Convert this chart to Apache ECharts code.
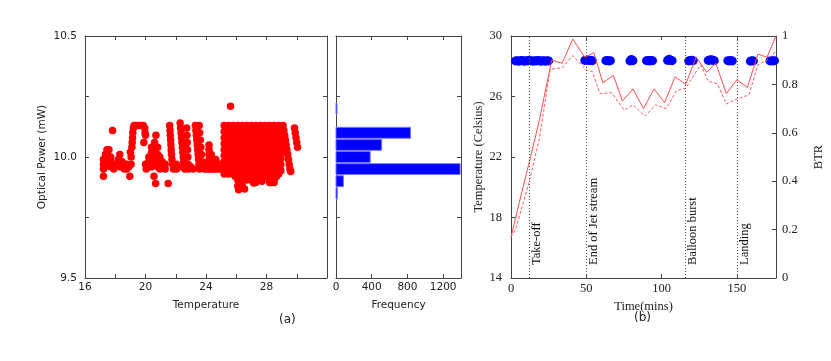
<!DOCTYPE html>
<html>
<head>
<meta charset="utf-8">
<script src="https://cdn.jsdelivr.net/npm/echarts@6/dist/echarts.min.js"></script>
<style>
  html, body { margin: 0; padding: 0; background: #fff; }
  #main { width: 831px; height: 361px; }
</style>
</head>
<body>
<div id="main"></div>
<script>
// ---- (a) scatter: optical power vs temperature, single points [T, P]
var powerPoints = [
  [17.22,9.99],[17.22,9.97],[17.22,9.95],[17.22,9.92],
  [17.35,10.01],[17.35,9.98],[17.35,9.96],
  [17.45,10.03],[17.45,10.01],[17.45,9.99],[17.45,9.97],
  [17.58,10.03],[17.58,10.0],[17.58,9.97],
  [17.7,10.0],[17.7,9.98],[17.7,9.96],[17.82,10.11],
  [17.9,9.97],[17.9,9.95],
  [18.2,9.99],[18.3,10.01],[18.3,9.98],[18.3,9.96],
  [18.45,9.98],[18.45,9.96],[18.6,9.97],[18.6,9.95],
  [18.75,9.97],[18.75,9.95],[18.9,9.96],[18.96,9.92],
  [19.0,10.02],[19.05,10.0],[19.05,9.97],
  [19.1,10.04],[19.12,10.06],[19.14,10.08],[19.16,10.1],[19.2,10.12],[19.25,10.13],
  [19.4,10.13],[19.55,10.13],[19.7,10.13],[19.85,10.13],[19.95,10.12],[19.97,10.1],
  [20.0,10.09],[19.89,10.06],
  [20.0,9.97],[20.05,9.95],
  [20.22,10.0],[20.22,9.98],[20.22,9.96],
  [20.4,10.04],[20.4,10.02],[20.4,10.0],[20.4,9.98],[20.4,9.96],
  [20.56,9.92],
  [20.6,10.06],[20.6,10.04],[20.6,10.02],[20.6,10.0],[20.6,9.98],
  [20.69,10.09],[20.67,9.89],
  [20.8,10.04],[20.8,10.01],[20.8,9.98],[20.8,9.96],
  [20.95,10.0],[20.95,9.97],[20.95,9.95],
  [21.1,9.98],[21.1,9.96],[21.3,9.97],[21.3,9.95],[21.5,9.89],
  [21.6,10.13],[21.62,10.11],[21.64,10.09],[21.66,10.07],[21.68,10.05],[21.7,10.03],
  [21.72,10.01],[21.75,9.99],[21.8,9.97],[21.85,9.95],[21.95,9.96],
  [22.05,9.97],[22.05,9.95],[22.2,9.96],
  [22.29,10.14],[22.32,10.12],[22.35,10.1],[22.38,10.08],[22.41,10.06],[22.44,10.04],
  [22.47,10.02],[22.5,10.0],[22.53,9.98],[22.56,9.96],[22.6,9.95],
  [22.72,10.12],[22.74,10.09],[22.76,10.06],[22.78,10.03],[22.8,10.0],[22.82,9.97],
  [22.85,9.95],[23.0,9.96],[23.15,9.95],
  [23.3,10.13],[23.33,10.11],[23.36,10.09],[23.39,10.07],[23.42,10.05],[23.45,10.03],
  [23.48,10.01],[23.51,9.99],[23.54,9.97],[23.57,9.95],
  [23.55,10.13],[23.58,10.1],[23.62,10.07],[23.66,10.04],[23.7,10.01],[23.74,9.98],
  [23.78,9.96],[23.9,9.95],
  [24.05,9.97],[24.05,9.95],[24.2,10.05],[24.2,10.03],[24.2,10.01],[24.2,9.99],
  [24.2,9.97],[24.2,9.95],[24.35,10.01],[24.35,9.98],[24.35,9.95],
  [24.5,9.97],[24.5,9.95],[24.65,9.99],[24.65,9.97],[24.65,9.95],
  [24.8,9.97],[24.8,9.95],[24.95,9.97],[24.95,9.95],
  [25.62,10.21],[26.15,9.865],[26.55,9.868],[27.7,9.9],[28.0,9.92],[28.3,9.895],
  [29.22,10.025],
  [29.1,10.13],[29.15,10.11],[29.2,10.09],[29.25,10.07],[29.3,10.05],[29.35,10.03],
  [29.4,10.01],[29.45,9.99],[29.5,9.97],[29.55,9.95],[29.6,9.94],
  [29.85,10.12],[29.9,10.1],[29.95,10.08],[30.0,10.06],[30.05,10.04]
];
// dense block 25-29 C, one column per temperature: [T, P, P, ...]
var powerColumns = [
  [25.2, 10.13,10.105,10.08,10.055,10.03,10.005,9.98,9.955,9.93],
  [25.35, 10.118,10.093,10.068,10.043,10.018,9.993,9.968,9.943],
  [25.5, 10.13,10.105,10.08,10.055,10.03,10.005,9.98,9.955,9.93],
  [25.65, 10.118,10.093,10.068,10.043,10.018,9.993,9.968,9.943],
  [25.8, 10.13,10.105,10.08,10.055,10.03,10.005,9.98,9.955,9.93],
  [25.95, 10.118,10.093,10.068,10.043,10.018,9.993,9.968,9.943,9.918],
  [26.1, 10.13,10.105,10.08,10.055,10.03,10.005,9.98,9.955,9.93,9.905,9.88],
  [26.25, 10.118,10.093,10.068,10.043,10.018,9.993,9.968,9.943,9.918,9.893],
  [26.4, 10.13,10.105,10.08,10.055,10.03,10.005,9.98,9.955,9.93,9.905,9.88],
  [26.55, 10.118,10.093,10.068,10.043,10.018,9.993,9.968,9.943,9.918],
  [26.7, 10.13,10.105,10.08,10.055,10.03,10.005,9.98,9.955,9.93,9.905],
  [26.85, 10.118,10.093,10.068,10.043,10.018,9.993,9.968,9.943,9.918],
  [27.0, 10.13,10.105,10.08,10.055,10.03,10.005,9.98,9.955,9.93,9.905],
  [27.15, 10.118,10.093,10.068,10.043,10.018,9.993,9.968,9.943,9.918,9.893],
  [27.3, 10.13,10.105,10.08,10.055,10.03,10.005,9.98,9.955,9.93,9.905,9.895],
  [27.45, 10.118,10.093,10.068,10.043,10.018,9.993,9.968,9.943,9.918],
  [27.6, 10.13,10.105,10.08,10.055,10.03,10.005,9.98,9.955,9.93,9.905],
  [27.75, 10.118,10.093,10.068,10.043,10.018,9.993,9.968,9.943,9.918],
  [27.9, 10.13,10.105,10.08,10.055,10.03,10.005,9.98,9.955,9.93],
  [28.05, 10.118,10.093,10.068,10.043,10.018,9.993,9.968,9.943,9.918],
  [28.2, 10.13,10.105,10.08,10.055,10.03,10.005,9.98,9.955,9.93,9.905,9.895],
  [28.35, 10.118,10.093,10.068,10.043,10.018,9.993,9.968,9.943,9.918,9.898],
  [28.5, 10.13,10.105,10.08,10.055,10.03,10.005,9.98,9.955,9.93,9.905,9.895],
  [28.65, 10.118,10.093,10.068,10.043,10.018,9.993,9.968,9.943,9.918],
  [28.8, 10.13,10.105,10.08,10.055,10.03,10.005,9.98,9.955,9.93],
  [28.95, 10.118,10.093,10.068,10.043,10.018,9.993,9.968,9.943]
];

// ---- (a) histogram of optical power
var histBins = [10.2, 10.1, 10.05, 10.0, 9.95, 9.9, 9.85];
var histCounts = [3, 834, 511, 383, 1390, 83, 15];
var histBinWidth = 0.05;

// ---- (b) temperature and BTR vs time
var solidTime = [0, 6, 12, 19, 27, 34, 41, 49, 55, 61, 68, 74, 81, 88, 95, 102, 109, 116, 123, 130, 136, 143, 150, 157, 164, 170, 176];
var solidTemp = [16.7, 19.2, 21.6, 24.5, 28.4, 28.2, 29.8, 28.6, 28.9, 26.9, 27.4, 25.7, 26.5, 25.2, 26.5, 25.6, 27.3, 26.8, 28.6, 27.6, 28.2, 26.2, 27.1, 26.6, 28.8, 28.6, 30.0];
var dotTime = [0, 3, 12, 19, 26, 34, 41, 50, 54, 59, 67, 75, 81, 89, 96, 103, 110, 116, 126, 131, 137, 143, 149, 158, 164, 170, 176];
var dotTemp = [16.7, 17.2, 20.3, 23.3, 27.8, 27.9, 28.7, 27.75, 27.65, 26.2, 26.25, 25.1, 25.45, 24.7, 25.45, 25.2, 26.4, 26.55, 28.1, 27.0, 26.85, 25.5, 25.8, 26.1, 28.1, 28.4, 29.0];
var btrTime = [3,4,5,6,7,8,9,10,11,12,13,14,15,16,17,18,19,20,21,22,23,24,25,
  49,50,51,52,53,54, 63,64,65,66, 79,80,81, 90,91,92,93,94,
  104,105,106,107, 118,119,120,121, 131,132,133,134,135,
  144,145,146,147, 159,160,161, 172,173,174,175];
var btrValue = [0.897,0.898,0.896,0.897,0.899,0.897,0.896,0.898,0.897,0.899,0.898,0.897,
  0.896,0.898,0.897,0.899,0.897,0.896,0.898,0.897,0.896,0.898,0.897,
  0.899,0.900,0.901,0.899,0.900,0.898, 0.898,0.899,0.897,0.898, 0.897,0.903,0.898,
  0.898,0.899,0.897,0.899,0.898, 0.899,0.904,0.900,0.898, 0.897,0.899,0.900,0.898,
  0.899,0.901,0.902,0.900,0.898, 0.898,0.897,0.899,0.897, 0.896,0.898,0.897,
  0.897,0.898,0.897,0.898];
var eventTime = [12, 50, 116, 150];
var eventName = ['Take-off', 'End of Jet stream', 'Balloon burst', 'Landing'];

var SANS = 'DejaVu Sans';
var SERIF = 'Liberation Serif';
var lineCol = '#444';

var scatterData = powerPoints.slice();
powerColumns.forEach(function (col) {
  for (var i = 1; i < col.length; i++) scatterData.push([col[0], col[i]]);
});

function pairs(xs, ys) {
  return xs.map(function (x, i) { return [x, ys[i]]; });
}

function boxAxis(grid, pos, min, max, interval, font, labelFn, margin) {
  return {
    type: 'value', gridIndex: grid, position: pos, min: min, max: max, interval: interval,
    axisLine: { show: true, onZero: false, lineStyle: { color: lineCol, width: 1 } },
    axisTick: { show: true, inside: true, length: 4, lineStyle: { color: lineCol } },
    axisLabel: labelFn ? {
      show: true, formatter: labelFn, margin: margin, color: '#222',
      fontFamily: font, fontSize: font === SANS ? 10.5 : 12.5
    } : { show: false },
    splitLine: { show: false }
  };
}

var fmtA_x = function (v) { return (v % 4 === 0 && v < 32) ? String(v) : ''; };
var fmtA_y = function (v) { return Math.abs(v * 2 - Math.round(v * 2)) < 1e-6 ? v.toFixed(1) : ''; };
var fmtH_x = function (v) { return v < 1400 ? String(v) : ''; };
var fmtB_x = function (v) { return v % 50 === 0 ? String(v) : ''; };
var fmtB_yl = function (v) { return String(v); };
var fmtB_yr = function (v) {
  if (Math.abs(v) < 1e-6) return '0';
  if (Math.abs(v - 1) < 1e-6) return '1';
  return v.toFixed(1);
};

var xAxes = [
  boxAxis(0, 'bottom', 16, 32, 2, SANS, fmtA_x, 4),
  boxAxis(0, 'top', 16, 32, 2, SANS, null),
  boxAxis(1, 'bottom', 0, 1400, 400, SANS, fmtH_x, 4),
  boxAxis(1, 'top', 0, 1400, 400, SANS, null),
  boxAxis(2, 'bottom', 0, 176, 50, SERIF, fmtB_x, 4),
  boxAxis(2, 'top', 0, 176, 50, SERIF, null)
];
var yAxes = [
  boxAxis(0, 'left', 9.5, 10.5, 0.25, SANS, fmtA_y, 8),
  boxAxis(0, 'right', 9.5, 10.5, 0.25, SANS, null),
  boxAxis(1, 'left', 9.5, 10.5, 0.25, SANS, null),
  boxAxis(1, 'right', 9.5, 10.5, 0.25, SANS, null),
  boxAxis(2, 'left', 14, 30, 4, SERIF, fmtB_yl, 9),
  boxAxis(2, 'right', 0, 1, 0.2, SERIF, fmtB_yr, 6)
];

function axisName(ax, text, gap, font, size) {
  ax.name = text;
  ax.nameLocation = 'middle';
  ax.nameGap = gap;
  ax.nameTextStyle = { fontFamily: font, fontSize: size, color: '#222' };
}
axisName(xAxes[0], 'Temperature', 22, SANS, 10.5);
axisName(yAxes[0], 'Optical Power (mW)', 37, SANS, 10.5);
axisName(xAxes[2], 'Frequency', 22, SANS, 10.5);
axisName(xAxes[4], 'Time(mins)', 21, SERIF, 12.5);
axisName(yAxes[4], 'Temperature (Celsius)', 24, SERIF, 12.5);
axisName(yAxes[5], 'BTR', 36, SERIF, 12.5);

var chart = echarts.init(document.getElementById('main'));
chart.setOption({
  backgroundColor: '#fff',
  animation: false,
  grid: [
    { left: 85, top: 36, width: 242, height: 242 },
    { left: 336, top: 36, width: 125, height: 242 },
    { left: 511, top: 36, width: 265, height: 242 }
  ],
  xAxis: xAxes,
  yAxis: yAxes,
  graphic: [
    { type: 'text', left: 279, top: 314, style: { text: '(a)', font: '12px "DejaVu Sans"', fill: '#222' } },
    { type: 'text', left: 634, top: 312, style: { text: '(b)', font: '12px "DejaVu Sans"', fill: '#222' } }
  ],
  series: [
    {
      type: 'scatter', xAxisIndex: 0, yAxisIndex: 0,
      symbolSize: 7.5, itemStyle: { color: '#ff0000', opacity: 1 },
      data: scatterData
    },
    {
      type: 'custom', xAxisIndex: 2, yAxisIndex: 2,
      encode: { x: 0, y: 1 },
      data: pairs(histCounts, histBins),
      renderItem: function (params, api) {
        var c = api.value(0), b = api.value(1);
        var p0 = api.coord([0, b + histBinWidth / 2]);
        var p1 = api.coord([c, b - histBinWidth / 2]);
        return {
          type: 'rect',
          shape: { x: p0[0], y: p0[1] + 0.6, width: Math.max(p1[0] - p0[0], 1), height: p1[1] - p0[1] - 1.2 },
          style: { fill: '#0000ff', stroke: '#7373ff', lineWidth: 1 }
        };
      }
    },
    {
      type: 'line', xAxisIndex: 4, yAxisIndex: 4,
      data: pairs(solidTime, solidTemp), showSymbol: false, symbol: 'none',
      lineStyle: { color: '#ff4d4d', width: 1 }
    },
    {
      type: 'line', xAxisIndex: 4, yAxisIndex: 4,
      data: pairs(dotTime, dotTemp), showSymbol: false, symbol: 'none',
      lineStyle: { color: '#ff5c5c', width: 1, type: [3, 2] }
    },
    {
      type: 'scatter', xAxisIndex: 4, yAxisIndex: 5,
      symbolSize: 9, itemStyle: { color: '#0000ff', opacity: 1 },
      data: pairs(btrTime, btrValue),
      markLine: {
        silent: true, symbol: ['none', 'none'], animation: false,
        lineStyle: { color: '#555', width: 1, type: [1, 2] },
        label: {
          show: true, position: 'insideStartBottom', formatter: '{b}',
          fontFamily: SERIF, fontSize: 12.5, color: '#111', distance: [13, 1]
        },
        emphasis: { disabled: true },
        data: eventTime.map(function (t, i) { return { xAxis: t, name: eventName[i] }; })
      }
    }
  ]
});
</script>
</body>
</html>
